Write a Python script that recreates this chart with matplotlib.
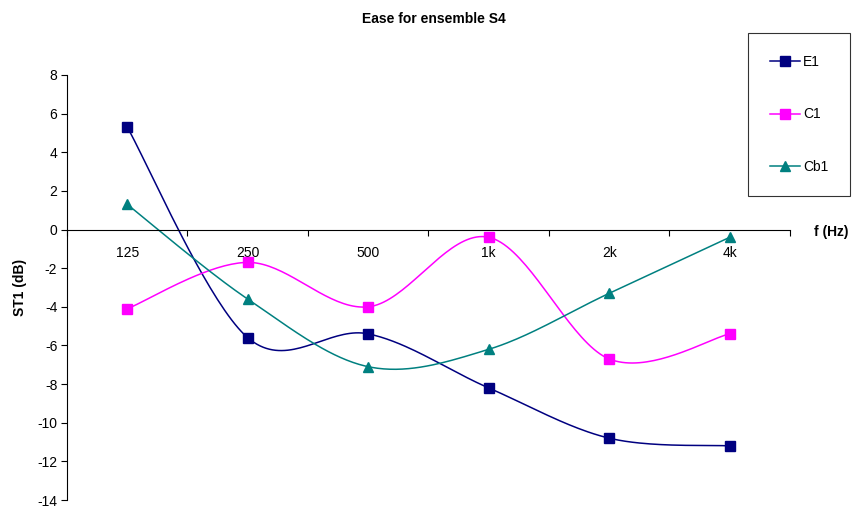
import numpy as np
import matplotlib
matplotlib.use('Agg')
import matplotlib.pyplot as plt

plt.rcParams['font.family'] = ['Liberation Sans', 'DejaVu Sans']
plt.rcParams['axes.unicode_minus'] = False

freqs = ['125', '250', '500', '1k', '2k', '4k']
e1 = [5.3, -5.6, -5.4, -8.2, -10.8, -11.2]
c1 = [-4.1, -1.7, -4.0, -0.4, -6.7, -5.4]
cb1 = [1.3, -3.6, -7.1, -6.2, -3.3, -0.4]


def smooth(x, y, n=40):
    # excel-like smoothed line: bezier segments with catmull-rom control points
    x = np.asarray(x, float)
    y = np.asarray(y, float)
    px = np.concatenate([[x[0]], x, [x[-1]]])
    py = np.concatenate([[y[0]], y, [y[-1]]])
    t = np.linspace(0, 1, n)
    xs, ys = [], []
    for i in range(1, len(px) - 2):
        p0 = np.array([px[i], py[i]])
        p3 = np.array([px[i + 1], py[i + 1]])
        c1_ = p0 + (p3 - np.array([px[i - 1], py[i - 1]])) / 6
        c2_ = p3 - (np.array([px[i + 2], py[i + 2]]) - p0) / 6
        b = ((1 - t) ** 3)[:, None] * p0 + (3 * (1 - t) ** 2 * t)[:, None] * c1_ \
            + (3 * (1 - t) * t ** 2)[:, None] * c2_ + (t ** 3)[:, None] * p3
        xs.append(b[:, 0])
        ys.append(b[:, 1])
    return np.concatenate(xs), np.concatenate(ys)


fig = plt.figure(figsize=(8.54, 5.12), dpi=100)
ax = fig.add_axes([67 / 854, 1 - 500 / 512, (790 - 67) / 854, (500 - 75) / 512])

x = np.arange(len(freqs))
series = [('E1', e1, '#000080', 's'), ('C1', c1, '#FF00FF', 's'), ('Cb1', cb1, '#008080', '^')]
handles = []
for name, vals, col, mk in series:
    sx, sy = smooth(x, vals)
    ax.plot(sx, sy, color=col, lw=1.1, zorder=2)
    ax.plot(x, vals, linestyle='none', marker=mk, color=col, markersize=7.5, zorder=3)
    h, = ax.plot([], [], color=col, lw=1.1, marker=mk, markersize=7.5)
    handles.append(h)

ax.set_xlim(-0.5, 5.5)
ax.set_ylim(-14, 8)
ax.set_yticks(np.arange(-14, 9, 2))
ax.set_xticks(x)
ax.set_xticklabels(freqs)
ax.set_xticks(np.arange(-0.5, 6, 1), minor=True)
ax.tick_params(axis='x', which='major', length=0, pad=12, labelsize=10)
ax.tick_params(axis='x', which='minor', length=4, direction='out', width=0.8)
ax.tick_params(axis='y', length=4, direction='out', width=0.8, labelsize=10, pad=3)

ax.spines['top'].set_visible(False)
ax.spines['right'].set_visible(False)
ax.spines['bottom'].set_position(('data', 0))
ax.spines['left'].set_linewidth(0.8)
ax.spines['bottom'].set_linewidth(0.8)

fig.text(434 / 854, 1 - 19 / 512, 'Ease for ensemble S4', ha='center', va='center',
         fontsize=10, fontweight='bold')
fig.text(831 / 854, 1 - 232 / 512, 'f (Hz)', ha='center', va='center',
         fontsize=10, fontweight='bold')
fig.text(20 / 854, 1 - 287 / 512, 'ST1 (dB)', ha='center', va='center',
         fontsize=10, fontweight='bold', rotation=90)

leg = fig.legend(handles, ['E1', 'C1', 'Cb1'], loc='upper left',
                 bbox_to_anchor=(748 / 854, 1 - 33 / 512), frameon=True, fancybox=False,
                 fontsize=10, labelspacing=2.8, handlelength=2.2, handletextpad=0.2,
                 borderpad=1.55, borderaxespad=0)
leg.get_frame().set_edgecolor('black')
leg.get_frame().set_linewidth(0.8)

fig.savefig('out.png', dpi=100)
